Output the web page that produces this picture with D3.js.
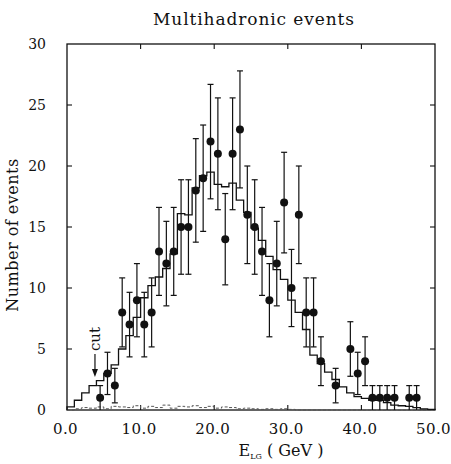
<!DOCTYPE html>
<html>
<head>
<meta charset="utf-8">
<script src="https://cdn.jsdelivr.net/npm/d3@7.9.0/dist/d3.min.js"></script>
<style>
  body { margin: 0; background: #fff; }
  svg { display: block; }
  text { font-family: "DejaVu Serif", "Liberation Serif", serif; fill: #111; }
</style>
</head>
<body>
<svg id="chart" width="451" height="464"></svg>
<script>
// measured events: bin centres (GeV) and counts
const dataE = [4.5, 5.5, 6.5, 7.5, 8.5, 9.5, 10.5, 11.5, 12.5, 13.5, 14.5, 15.5, 16.5, 17.5,
  18.5, 19.5, 20.5, 21.5, 22.5, 23.5, 24.5, 25.5, 26.5, 27.5, 28.5, 29.5, 30.5, 31.5,
  32.5, 33.5, 34.5, 36.5, 38.5, 39.5, 40.5, 41.5, 42.5, 43.5, 44.5, 46.5, 47.5];
const dataN = [1, 3, 2, 8, 7, 9, 7, 8, 13, 12, 13, 15, 15, 18,
  19, 22, 21, 14, 21, 23, 16, 15, 13, 9, 12, 17, 10, 16,
  8, 8, 4, 2, 5, 3, 4, 1, 1, 1, 1, 1, 1];

// Monte Carlo histogram, 1 GeV bins from 0 to 50
const mcLow = d3.range(0, 50);
const mcSolid = [0.25, 0.8, 1.4, 2.0, 2.4, 3.0, 3.7, 5.0, 6.1, 7.6,
  9.2, 10.2, 10.9, 11.6, 12.8, 16.1, 16.0, 18.2, 19.2, 19.5,
  18.5, 18.3, 18.6, 17.2, 16.2, 14.9, 13.9, 12.6, 11.5, 10.7,
  9.0, 8.0, 6.6, 4.5, 3.8, 3.1, 2.5, 1.9, 1.4, 1.1,
  0.95, 0.8, 0.8, 0.6, 0.4, 0.35, 0.3, 0.2, 0.1, 0.05];
// background (dashed) histogram
const mcDashed = [0, 0.1, 0.2, 0.15, 0.25, 0.1, 0.3, 0.25, 0.2, 0.35,
  0.15, 0.3, 0.2, 0.4, 0.15, 0.3, 0.25, 0.35, 0.2, 0.3,
  0.15, 0.25, 0.2, 0.1, 0.15, 0.1, 0.05, 0.1, 0.05, 0.1,
  0.05, 0, 0, 0, 0, 0, 0, 0, 0, 0,
  0, 0, 0, 0, 0, 0, 0, 0, 0, 0];

const xTicks = [0, 10, 20, 30, 40, 50];
const yTicks = [0, 5, 10, 15, 20, 25, 30];
const cutE = 3.8;

const width = 451, height = 464;
const margin = { top: 44, right: 16, bottom: 54, left: 67 };

const svg = d3.select('#chart');

const x = d3.scaleLinear().domain([0, 50]).range([margin.left, width - margin.right]);
const y = d3.scaleLinear().domain([0, 30]).range([height - margin.bottom, margin.top]);

// title
svg.append('text')
  .attr('x', 254).attr('y', 25)
  .attr('text-anchor', 'middle')
  .style('font-size', '17px')
  .style('letter-spacing', '0.9px')
  .text('Multihadronic events');

// frame
svg.append('rect')
  .attr('x', x(0)).attr('y', y(30))
  .attr('width', x(50) - x(0)).attr('height', y(0) - y(30))
  .attr('fill', 'none').attr('stroke', '#111').attr('stroke-width', 1.3);

// inward ticks on all four sides
const tickLen = 5;
const inner = svg.append('g').attr('stroke', '#111').attr('stroke-width', 1.1);
xTicks.slice(1, -1).forEach((t) => {
  inner.append('line').attr('x1', x(t)).attr('x2', x(t)).attr('y1', y(0)).attr('y2', y(0) - tickLen);
  inner.append('line').attr('x1', x(t)).attr('x2', x(t)).attr('y1', y(30)).attr('y2', y(30) + tickLen);
});
yTicks.slice(1, -1).forEach((t) => {
  inner.append('line').attr('x1', x(0)).attr('x2', x(0) + tickLen).attr('y1', y(t)).attr('y2', y(t));
  inner.append('line').attr('x1', x(50)).attr('x2', x(50) - tickLen).attr('y1', y(t)).attr('y2', y(t));
});

// axis labels via d3 axes (ticks hidden, labels only)
const xAxis = svg.append('g')
  .attr('transform', `translate(0,${y(0)})`)
  .call(d3.axisBottom(x).tickValues(xTicks).tickFormat(d3.format('.1f')).tickSize(0).tickPadding(13));
xAxis.select('.domain').remove();
xAxis.selectAll('text').style('font-size', '15px').style('letter-spacing', '0.4px').attr('dx', '-2');

const yAxis = svg.append('g')
  .attr('transform', `translate(${x(0)},0)`)
  .call(d3.axisLeft(y).tickValues(yTicks).tickSize(0).tickPadding(21));
yAxis.select('.domain').remove();
yAxis.selectAll('text').style('font-size', '14px');

svg.append('text')
  .attr('transform', 'translate(18,235) rotate(-90)')
  .attr('text-anchor', 'middle')
  .style('font-size', '16px')
  .style('letter-spacing', '0.5px')
  .text('Number of events');

const xl = svg.append('text')
  .attr('x', 281).attr('y', 456)
  .attr('text-anchor', 'middle')
  .style('font-size', '16px');
xl.append('tspan').text('E');
xl.append('tspan').attr('dy', 3).style('font-size', '8px').text('LG');
xl.append('tspan').attr('dy', -3).text('  ( GeV )');

// histograms as step lines
function stepPoints(vals) {
  const pts = [[0, 0]];
  vals.forEach((v, i) => {
    pts.push([mcLow[i], v]);
    pts.push([mcLow[i] + 1, v]);
  });
  pts.push([50, 0]);
  return pts;
}
const line = d3.line().x((d) => x(d[0])).y((d) => y(d[1]));

svg.append('path')
  .datum(stepPoints(mcDashed))
  .attr('d', line)
  .attr('fill', 'none')
  .attr('stroke', '#555')
  .attr('stroke-width', 1)
  .attr('stroke-dasharray', '3,2');

svg.append('path')
  .datum(stepPoints(mcSolid))
  .attr('d', line)
  .attr('fill', 'none')
  .attr('stroke', '#111')
  .attr('stroke-width', 1.3);

// data points with sqrt(N) error bars
const pts = dataE.map((e, i) => ({ e, n: dataN[i], err: Math.sqrt(dataN[i]) }));
const cap = 3;
const eb = svg.append('g').attr('stroke', '#111').attr('stroke-width', 1.2);
pts.forEach((d) => {
  const lo = Math.max(0, d.n - d.err), hi = d.n + d.err;
  eb.append('line').attr('x1', x(d.e)).attr('x2', x(d.e)).attr('y1', y(lo)).attr('y2', y(hi));
  eb.append('line').attr('x1', x(d.e) - cap).attr('x2', x(d.e) + cap).attr('y1', y(hi)).attr('y2', y(hi));
  if (lo > 0) {
    eb.append('line').attr('x1', x(d.e) - cap).attr('x2', x(d.e) + cap).attr('y1', y(lo)).attr('y2', y(lo));
  }
});
svg.append('g')
  .selectAll('circle')
  .data(pts)
  .join('circle')
  .attr('cx', (d) => x(d.e))
  .attr('cy', (d) => y(d.n))
  .attr('r', 4)
  .attr('fill', '#111');

// cut marker
const cx = x(cutE);
svg.append('text')
  .attr('transform', `translate(${cx + 5},339) rotate(-90)`)
  .attr('text-anchor', 'middle')
  .style('font-size', '15px')
  .text('cut');
svg.append('line')
  .attr('x1', cx).attr('x2', cx).attr('y1', 354).attr('y2', 374)
  .attr('stroke', '#111').attr('stroke-width', 1.2);
svg.append('path')
  .attr('d', `M${cx - 3},369 L${cx},377 L${cx + 3},369 Z`)
  .attr('fill', '#111');
</script>
</body>
</html>
